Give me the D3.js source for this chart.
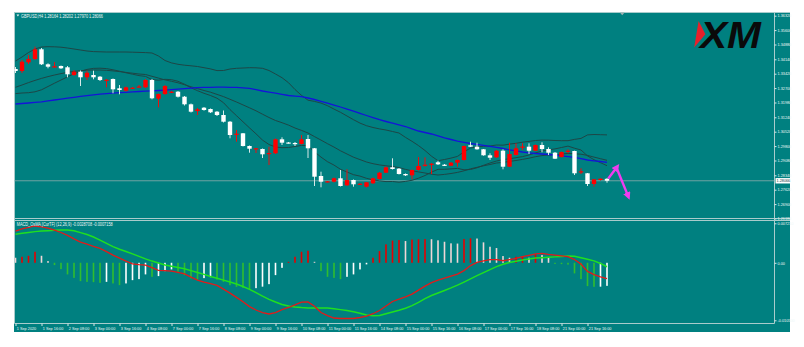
<!DOCTYPE html>
<html><head><meta charset="utf-8">
<script src="https://cdn.jsdelivr.net/npm/d3@7"></script>
<style>html,body{margin:0;padding:0;background:#fff;}svg{display:block;}</style>
</head><body><svg id="c" width="804" height="347"></svg>
<script>
// ---------------- DATA ----------------
const symbolHeader = "GBPUSD,H4 1.28164 1.28202 1.27970 1.28066";
const macdHeader = "MACD_OsMA [CurTF] (12,26,9) -0.0028708 -0.0007158";
const lastPrice = 1.28066;

const open = [1.33655,1.33555,1.3399,1.34155,1.3464,1.3389,1.33755,1.33805,1.3374,1.33355,
1.3352,1.3324,1.33355,1.3327,1.3308,1.33155,1.3269,1.3257,1.3269,1.32755,
1.3274,1.33105,1.3217,1.32405,1.3249,1.3252,1.3227,1.3189,1.31555,1.3172,
1.31655,1.3152,1.31355,1.3102,1.3038,1.3044,1.29805,1.2967,1.29655,1.29405,
1.2944,1.3014,1.2998,1.29955,1.29905,1.30155,1.2969,1.28305,1.28005,1.2802,
1.2819,1.2784,1.28105,1.2789,1.2777,1.2794,1.28155,1.2847,1.2874,1.2867,
1.28405,1.2834,1.28605,1.2884,1.2889,1.2899,1.2887,1.2882,1.2897,1.29105,
1.2984,1.2977,1.2964,1.2934,1.2924,1.2957,1.2877,1.29355,1.2972,1.2977,
1.2957,1.29855,1.29655,1.2947,1.29255,1.2954,1.29555,1.28505,1.2844,1.27905,
1.28105,1.28164];
const high = [1.33755,1.34105,1.34355,1.3477,1.34705,1.3394,1.34005,1.3383,1.33805,1.33605,
1.3358,1.3357,1.3357,1.33305,1.33155,1.3318,1.32855,1.3278,1.32755,1.32855,
1.33155,1.33155,1.3243,1.32855,1.32555,1.32555,1.32305,1.3193,1.31705,1.31755,
1.3168,1.31555,1.3158,1.31055,1.30605,1.30455,1.2983,1.29705,1.2968,1.2977,
1.3018,1.3024,1.30005,1.30005,1.30355,1.30355,1.29705,1.2852,1.28055,1.2823,
1.28605,1.2864,1.2813,1.27955,1.28005,1.2823,1.28505,1.2878,1.2919,1.28705,
1.2843,1.2863,1.29255,1.2924,1.28955,1.2907,1.28905,1.29005,1.2913,1.2983,
1.3002,1.2997,1.29655,1.2944,1.29605,1.2964,1.2997,1.2994,1.2994,1.2994,
1.2988,1.2999,1.2974,1.29505,1.2953,1.2964,1.2957,1.2869,1.28455,1.28155,
1.2819,1.28202];
const low = [1.33455,1.33455,1.33905,1.34105,1.33855,1.3369,1.3372,1.33655,1.3324,1.33305,
1.32805,1.33105,1.3314,1.33055,1.3274,1.3244,1.3239,1.3253,1.32655,1.3273,
1.32705,1.3214,1.3174,1.32355,1.32455,1.3223,1.3183,1.3148,1.31355,1.3157,
1.31455,1.31305,1.3098,1.3019,1.3002,1.2978,1.2947,1.29455,1.29205,1.28855,
1.29405,1.29855,1.2993,1.29805,1.2988,1.29205,1.27805,1.2774,1.2798,1.2798,
1.2778,1.27805,1.2777,1.27855,1.2773,1.27905,1.2813,1.28455,1.2863,1.2838,
1.28305,1.2814,1.2858,1.2877,1.28405,1.28855,1.28805,1.28805,1.2877,1.2908,
1.29755,1.2962,1.2932,1.29105,1.29205,1.2864,1.28755,1.2933,1.29605,1.29405,
1.29555,1.2949,1.29355,1.29155,1.2923,1.2944,1.28355,1.28405,1.27805,1.2777,
1.2808,1.2797];
const close = [1.33555,1.3402,1.34155,1.3464,1.3389,1.3377,1.3379,1.3369,1.3339,1.3352,
1.3324,1.3347,1.3324,1.33105,1.3312,1.3264,1.32605,1.3274,1.3272,1.3278,
1.33105,1.3219,1.32405,1.32805,1.3252,1.3227,1.3189,1.3152,1.3164,1.31605,
1.3149,1.31355,1.3102,1.30355,1.3042,1.29805,1.2967,1.2969,1.2939,1.29455,
1.3014,1.2997,1.29955,1.2993,1.3014,1.2969,1.2827,1.2802,1.2804,1.2819,
1.27805,1.28105,1.2789,1.2792,1.2799,1.2819,1.2847,1.2874,1.28655,1.28405,
1.2834,1.28605,1.28805,1.2887,1.2892,1.2889,1.2884,1.2897,1.29105,1.29805,
1.2977,1.2964,1.2934,1.2922,1.2957,1.2877,1.29405,1.2969,1.2978,1.2957,
1.29855,1.29655,1.2947,1.2917,1.29505,1.2957,1.2844,1.2854,1.27905,1.2814,
1.2817,1.28066];

const bbUpper = [1.34055,1.34255,1.3448,1.34655,1.34755,1.3477,1.34765,1.34745,1.34705,1.34655,
1.34605,1.34555,1.34525,1.34515,1.34505,1.34505,1.34505,1.34505,1.34495,1.34485,
1.34475,1.34455,1.34305,1.3408,1.3396,1.3389,1.33845,1.33815,1.3378,1.3372,
1.3366,1.33575,1.3358,1.33655,1.3369,1.33705,1.3372,1.33715,1.3369,1.3358,
1.33405,1.3322,1.3297,1.3263,1.32335,1.32095,1.32035,1.3195,1.3182,1.3165,
1.3149,1.31305,1.3112,1.3095,1.3082,1.3073,1.3066,1.30605,1.3053,1.30455,
1.30235,1.3004,1.29825,1.2958,1.29295,1.2907,1.2913,1.292,1.29285,1.29515,
1.297,1.29765,1.2979,1.29805,1.29855,1.29845,1.299,1.2994,1.29995,1.30035,
1.3008,1.301,1.30095,1.3008,1.3007,1.3007,1.30135,1.30185,1.3036,1.3038,
1.3037,1.3036];
const bbMiddle = [1.3274,1.32855,1.32975,1.33085,1.33185,1.33275,1.33355,1.33425,1.33485,1.33535,
1.3357,1.33595,1.33605,1.33605,1.3359,1.3356,1.33525,1.33485,1.33445,1.33405,
1.3338,1.3329,1.332,1.3311,1.3304,1.32965,1.3287,1.32765,1.32675,1.3258,
1.32495,1.32385,1.32275,1.3214,1.32005,1.3186,1.31715,1.31565,1.31395,1.3123,
1.3108,1.3097,1.3085,1.30705,1.30585,1.30455,1.30275,1.301,1.2992,1.2975,
1.29565,1.29405,1.29245,1.29125,1.29005,1.2892,1.2886,1.28815,1.2878,1.28725,
1.28635,1.28565,1.2851,1.28455,1.28395,1.28355,1.28385,1.2843,1.28485,1.28565,
1.28665,1.2874,1.28815,1.2888,1.28955,1.28985,1.29035,1.2908,1.29135,1.29195,
1.2927,1.29325,1.29355,1.2937,1.294,1.29435,1.29415,1.29395,1.29335,1.2925,
1.2917,1.2909];
const bbLower = [1.32425,1.32455,1.3247,1.32515,1.32615,1.3278,1.32945,1.33105,1.33265,1.33415,
1.33535,1.33635,1.33685,1.33695,1.33675,1.33615,1.33545,1.33465,1.33395,1.33325,
1.33285,1.33125,1.33095,1.3314,1.3312,1.3304,1.32895,1.32715,1.3257,1.3244,
1.3233,1.32195,1.3197,1.31625,1.3132,1.31015,1.3071,1.30415,1.301,1.2988,
1.29755,1.2972,1.2973,1.2978,1.29835,1.29815,1.29515,1.2925,1.2902,1.2885,
1.2864,1.28505,1.2837,1.283,1.2819,1.2811,1.2806,1.28025,1.2803,1.27995,
1.28035,1.2809,1.28195,1.2833,1.28495,1.2864,1.2864,1.2866,1.28685,1.28615,
1.2863,1.28715,1.2884,1.28955,1.29055,1.29125,1.2917,1.2922,1.29275,1.29355,
1.2946,1.2955,1.29615,1.2966,1.2973,1.298,1.29695,1.29605,1.2931,1.2912,
1.2897,1.2882];
const maBlue = [1.31905,1.3193,1.31955,1.31985,1.32015,1.3206,1.32105,1.3215,1.32195,1.3224,
1.32285,1.32325,1.32365,1.32395,1.32425,1.3245,1.3247,1.3249,1.3251,1.3253,
1.32545,1.32565,1.3258,1.326,1.3262,1.32645,1.32675,1.327,1.32725,1.32735,
1.3274,1.32745,1.32745,1.3274,1.32735,1.32715,1.3269,1.32625,1.32555,1.325,
1.32445,1.32385,1.3233,1.323,1.3227,1.32205,1.3213,1.3204,1.31945,1.3185,
1.31755,1.3165,1.31545,1.3144,1.3133,1.31225,1.3112,1.3103,1.30945,1.30865,
1.3078,1.30665,1.30555,1.3048,1.30405,1.3031,1.30215,1.3013,1.30045,1.29985,
1.2993,1.29885,1.2984,1.2979,1.2974,1.2968,1.29615,1.2956,1.29505,1.29465,
1.2943,1.29405,1.2938,1.29345,1.29315,1.29275,1.29235,1.2917,1.29105,1.29065,
1.2903,1.2899];

const macdHist = [0.00092,0.0011,0.00128,0.00201,0.00128,0.00031,-0.00042,-0.00115,-0.00212,-0.00275,
-0.00335,-0.00348,-0.00353,-0.00366,-0.00348,-0.00377,-0.00408,-0.00377,-0.00317,-0.00298,
-0.00212,-0.00256,-0.00243,-0.00152,-0.00121,-0.00165,-0.00225,-0.00285,-0.00307,-0.0028,
-0.00262,-0.00307,-0.00348,-0.00408,-0.00439,-0.00458,-0.00481,-0.00463,-0.00436,-0.0039,
-0.00225,-0.00092,0.00018,0.0011,0.00201,0.0022,0.00018,-0.00152,-0.00256,-0.00275,
-0.00298,-0.00256,-0.00212,-0.00121,-0.00029,0.00092,0.00214,0.00337,0.00406,0.00415,
0.00397,0.00425,0.0043,0.00434,0.0043,0.0041,0.00384,0.00355,0.00351,0.00434,
0.00447,0.00443,0.00373,0.00293,0.00269,0.00123,0.00092,0.0011,0.00113,0.00092,
0.00154,0.00141,0.00099,-0.0002,-0.00024,-0.00033,-0.00194,-0.00298,-0.00426,-0.00439,
-0.00436,-0.00421];
const macdRed = [0.0058,0.00617,0.00648,0.00672,0.00657,0.00635,0.00598,0.00553,0.00501,0.00437,
0.00379,0.00339,0.003,0.00264,0.00205,0.00141,0.00086,0.00031,-0.0002,-0.00033,
-0.00042,-0.00088,-0.00137,-0.00143,-0.00152,-0.00174,-0.00203,-0.00262,-0.00317,-0.00353,
-0.00381,-0.00412,-0.00481,-0.00554,-0.00631,-0.0071,-0.008,-0.00862,-0.00908,-0.00935,
-0.00911,-0.00856,-0.00816,-0.0077,-0.00719,-0.00716,-0.00792,-0.00908,-0.00966,-0.01008,
-0.01017,-0.01017,-0.01017,-0.00999,-0.00972,-0.0093,-0.00871,-0.00789,-0.00706,-0.00664,
-0.00622,-0.00573,-0.005,-0.00426,-0.00362,-0.00317,-0.0028,-0.00243,-0.00207,-0.00143,
-0.00051,0.00009,0.00035,0.00059,0.00059,0.00037,0.00059,0.00081,0.00113,0.00137,
0.00163,0.00172,0.00152,0.00141,0.00128,0.00113,0.00059,-0.00024,-0.00157,-0.00216,
-0.00258,-0.00287];
const macdGreen = [0.0052,0.00538,0.00554,0.00569,0.0058,0.00587,0.00593,0.00597,0.00598,0.00584,
0.00551,0.00516,0.0047,0.00415,0.00355,0.00296,0.00247,0.00205,0.00163,0.00117,
0.00071,0.00031,-0.00005,-0.0004,-0.00064,-0.00086,-0.00108,-0.00143,-0.00178,-0.00212,
-0.00249,-0.00282,-0.00317,-0.00351,-0.00386,-0.00432,-0.00485,-0.00545,-0.00609,-0.00668,
-0.00717,-0.00761,-0.00789,-0.00807,-0.00818,-0.00824,-0.00824,-0.00824,-0.00827,-0.00838,
-0.00855,-0.00873,-0.00893,-0.0092,-0.00953,-0.00966,-0.00963,-0.0093,-0.00899,-0.00866,
-0.00829,-0.00783,-0.00723,-0.00655,-0.00597,-0.00551,-0.00505,-0.00459,-0.00408,-0.00353,
-0.00295,-0.00234,-0.00179,-0.00124,-0.0007,-0.00027,0.00007,0.00027,0.00049,0.00071,
0.00086,0.00093,0.00101,0.00108,0.00115,0.00123,0.00119,0.00093,0.00066,0.00035,
-0.00012,-0.00072];

const timeLabels = ["1 Sep 2020","1 Sep 16:00","2 Sep 08:00","3 Sep 00:00","3 Sep 16:00","4 Sep 08:00",
"7 Sep 00:00","7 Sep 16:00","8 Sep 08:00","9 Sep 00:00","9 Sep 16:00","10 Sep 08:00","11 Sep 00:00",
"11 Sep 16:00","14 Sep 08:00","15 Sep 00:00","15 Sep 16:00","16 Sep 08:00","17 Sep 00:00","17 Sep 16:00",
"18 Sep 08:00","21 Sep 00:00","21 Sep 16:00"];
const timeTickBars = [0,4,8,12,16,20,24,28,32,36,40,44,48,52,56,60,64,68,72,76,80,84,88];
const priceTicks = [1.36320,1.35600,1.34880,1.34140,1.33420,1.32700,1.31980,1.31240,1.30520,1.29800,1.29080,1.28340,1.27620,1.26900,1.26180];
const macdTicks = [0.00721,0,-0.0105];
const macdTickLabels = ["0.007210","0.00","-0.010500"];
// forecast annotation (bar index, price)
const arrowUp = [[91.2,1.2818],[92.6,1.2878]];
const arrowDown = [[92.45,1.2873],[94.3,1.2726]];

// ---------------- LAYOUT ----------------
const svg = d3.select('#c');
const FONT = '"Liberation Sans", Arial, sans-serif';
const L = 14.5, T = 12.5, R = 774.5, OUTR = 790, MB = 218.5, MT = 220.5, MBOT = 323.5, OUTB = 332;
const frameCol = '#a9cccc', txtCol = '#eef7f7';

const x = d3.scaleLinear().domain([0, 91]).range([15.5, 607]);
const yMain = d3.scaleLinear().domain([1.26155, 1.36505]).range([219, 12]);
const yMacd = d3.scaleLinear().domain([-0.0105, 0.00721]).range([320.3, 223.3]);

svg.append('rect').attr('x', 14).attr('y', 12).attr('width', OUTR - 14).attr('height', OUTB - 12).attr('fill', '#008080');

const defs = svg.append('defs');
defs.append('clipPath').attr('id', 'cm').append('rect').attr('x', L).attr('y', T).attr('width', R - L).attr('height', MB - T);
defs.append('clipPath').attr('id', 'cd').append('rect').attr('x', L).attr('y', MT).attr('width', R - L).attr('height', MBOT - MT);
defs.append('marker').attr('id', 'ah').attr('viewBox', '0 0 10 10').attr('refX', 6).attr('refY', 5)
  .attr('markerWidth', 3.2).attr('markerHeight', 3.2).attr('orient', 'auto')
  .append('path').attr('d', 'M0,0 L10,5 L0,10 z').attr('fill', '#f03cf0');

// frame lines
const frame = svg.append('g').attr('stroke', frameCol).attr('stroke-width', 1).attr('fill', 'none');
frame.append('line').attr('x1', 14).attr('x2', OUTR).attr('y1', T).attr('y2', T);
frame.append('line').attr('x1', L).attr('x2', L).attr('y1', T).attr('y2', MBOT);
frame.append('line').attr('x1', R).attr('x2', R).attr('y1', T).attr('y2', MBOT);
frame.append('line').attr('x1', L).attr('x2', OUTR).attr('y1', MB).attr('y2', MB);
frame.append('line').attr('x1', L).attr('x2', OUTR).attr('y1', MT).attr('y2', MT);
frame.append('line').attr('x1', L).attr('x2', R).attr('y1', MBOT).attr('y2', MBOT);

// ---------------- MAIN WINDOW ----------------
const gm = svg.append('g').attr('clip-path', 'url(#cm)');
const bars = d3.range(close.length);

// bid line
gm.append('line').attr('x1', L).attr('x2', R).attr('y1', yMain(lastPrice)).attr('y2', yMain(lastPrice))
  .attr('stroke', '#6fa3a3').attr('stroke-width', 1);

const lineMain = arr => d3.line().x((d, i) => x(i)).y(d => yMain(d))(arr);
[bbUpper, bbMiddle, bbLower].forEach(a => {
  gm.append('path').attr('d', lineMain(a)).attr('fill', 'none').attr('stroke', '#1d4646').attr('stroke-width', 1);
});
gm.append('path').attr('d', lineMain(maBlue)).attr('fill', 'none').attr('stroke', '#1414d8').attr('stroke-width', 1.3);

const candleCol = i => close[i] > open[i] ? '#ff0000' : '#ffffff';
gm.selectAll('line.wick').data(bars).join('line').attr('class', 'wick')
  .attr('x1', i => x(i)).attr('x2', i => x(i))
  .attr('y1', i => yMain(high[i])).attr('y2', i => yMain(low[i]))
  .attr('stroke', i => close[i] > open[i] ? '#e81010' : '#d8eaea').attr('stroke-width', 1);
gm.selectAll('rect.body').data(bars).join('rect').attr('class', 'body')
  .attr('x', i => x(i) - 2.2).attr('width', 4.4)
  .attr('y', i => Math.min(yMain(open[i]), yMain(close[i])))
  .attr('height', i => Math.max(1.2, Math.abs(yMain(open[i]) - yMain(close[i]))))
  .attr('fill', candleCol);

// forecast arrows
const arrowLine = d3.line().x(d => x(d[0])).y(d => yMain(d[1]));
[arrowUp, arrowDown].forEach(a => {
  gm.append('path').attr('d', arrowLine(a)).attr('stroke', '#f03cf0').attr('stroke-width', 2.4)
    .attr('fill', 'none').attr('marker-end', 'url(#ah)');
});

// header
svg.append('path').attr('d', 'M16.5,14.6 L19.3,14.6 L17.9,16.6 Z').attr('fill', txtCol);
svg.append('text').attr('x', 21).attr('y', 17.6).attr('font-family', FONT).attr('font-size', 5)
  .attr('fill', txtCol).attr('textLength', 82).attr('lengthAdjust', 'spacingAndGlyphs').text(symbolHeader);

// chart shift marker
svg.append('path').attr('d', 'M619.8,12.5 L624.6,12.5 L622.2,15.3 Z').attr('fill', '#9fb2b2');

// logo
svg.append('path').attr('d', 'M698.6,21 L705.4,34.2 L694.2,47.6 Z').attr('fill', '#e8202a');
svg.append('text').attr('x', 700).attr('y', 47.6).attr('font-family', FONT).attr('font-weight', 'bold')
  .attr('font-style', 'italic').attr('font-size', 37).attr('fill', '#0a0a0a')
  .attr('textLength', 61).attr('lengthAdjust', 'spacingAndGlyphs').text('XM');

// price axis
const axMain = svg.append('g').attr('transform', `translate(${R},0)`)
  .call(d3.axisRight(yMain).tickValues(priceTicks).tickFormat(d3.format('.5f')).tickSize(2).tickPadding(1));
axMain.select('.domain').remove();
axMain.selectAll('line').attr('stroke', '#d6e8e8');
axMain.selectAll('text').attr('fill', txtCol).attr('font-size', 3.8).attr('font-family', FONT);
axMain.attr('font-family', FONT).attr('font-size', 3.8);

// last price box
svg.append('rect').attr('x', 775.5).attr('y', yMain(lastPrice) - 2.7).attr('width', 15.5).attr('height', 5.4).attr('fill', '#ffffff');
svg.append('text').attr('x', 776.5).attr('y', yMain(lastPrice) + 1.4).attr('font-family', FONT).attr('font-size', 3.8)
  .attr('fill', '#0d3c3c').text(d3.format('.5f')(lastPrice));

// ---------------- MACD WINDOW ----------------
const gd = svg.append('g').attr('clip-path', 'url(#cd)');
const histCol = i => {
  const v = macdHist[i], p = i > 0 ? macdHist[i - 1] : v;
  if (v >= 0) return v > p ? '#e60000' : '#efd6d6';
  return v < p ? '#2fbd2f' : '#ffffff';
};
gd.selectAll('rect.h').data(bars).join('rect').attr('class', 'h')
  .attr('x', i => x(i) - 0.8).attr('width', 1.6)
  .attr('y', i => Math.min(yMacd(0), yMacd(macdHist[i])))
  .attr('height', i => Math.max(0.8, Math.abs(yMacd(macdHist[i]) - yMacd(0))))
  .attr('fill', histCol);
const lineMacd = arr => d3.line().x((d, i) => x(i)).y(d => yMacd(d))(arr);
gd.append('path').attr('d', lineMacd(macdGreen)).attr('fill', 'none').attr('stroke', '#1fe01f').attr('stroke-width', 1.5);
gd.append('path').attr('d', lineMacd(macdRed)).attr('fill', 'none').attr('stroke', '#e21a1a').attr('stroke-width', 1.3);

svg.append('text').attr('x', 16.7).attr('y', 226.2).attr('font-family', FONT).attr('font-size', 5)
  .attr('fill', txtCol).attr('textLength', 96).attr('lengthAdjust', 'spacingAndGlyphs').text(macdHeader);

const axMacd = svg.append('g').attr('transform', `translate(${R},0)`)
  .call(d3.axisRight(yMacd).tickValues(macdTicks).tickFormat((d, i) => macdTickLabels[i]).tickSize(2).tickPadding(1));
axMacd.select('.domain').remove();
axMacd.selectAll('line').attr('stroke', '#d6e8e8');
axMacd.selectAll('text').attr('fill', txtCol).attr('font-size', 3.8).attr('font-family', FONT);

// ---------------- TIME AXIS ----------------
const axTime = svg.append('g').attr('transform', `translate(0,${MBOT})`)
  .call(d3.axisBottom(x).tickValues(timeTickBars).tickFormat((d, i) => timeLabels[i]).tickSize(2.5).tickPadding(1));
axTime.select('.domain').remove();
axTime.selectAll('line').attr('stroke', '#d6e8e8');
axTime.selectAll('text').attr('fill', txtCol).attr('font-size', 3.8).attr('font-family', FONT)
  .attr('text-anchor', 'start').attr('dx', 0.8).attr('dy', '0.9em');
</script>
</body></html>
